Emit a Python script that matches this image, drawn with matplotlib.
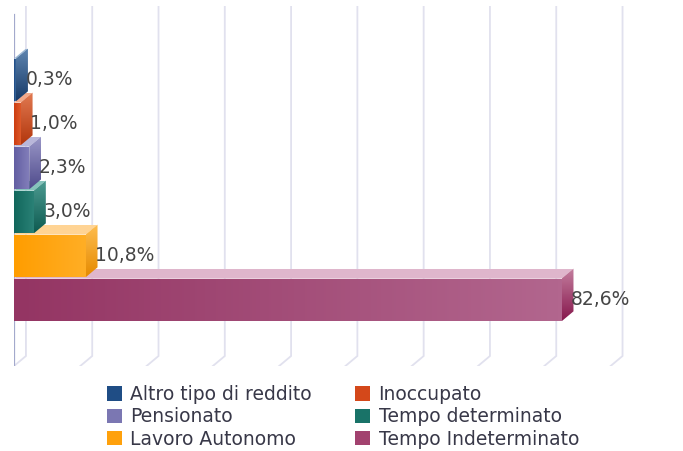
import numpy as np
import matplotlib
matplotlib.use('Agg')
import matplotlib.pyplot as plt
from matplotlib.patches import Polygon, Patch
from matplotlib.colors import LinearSegmentedColormap

categories = ['Altro tipo di reddito', 'Inoccupato', 'Pensionato',
              'Tempo determinato', 'Lavoro Autonomo', 'Tempo Indeterminato']
values = [0.3, 1.0, 2.3, 3.0, 10.8, 82.6]
grid_ticks = [0, 10, 20, 30, 40, 50, 60, 70, 80, 90]

# colours per bar: front (left, right), top, side (top, bottom), legend
front_left = ['#1a4680', '#cc3c10', '#625ea2', '#11675c', '#ff9d00', '#943563']
front_right = ['#3d6a9e', '#de5a2a', '#8480bb', '#2a8176', '#ffae25', '#b2668e']
top_col = ['#9ab7d4', '#f3a98a', '#b9b7da', '#86c4bc', '#ffd494', '#dfb6cc']
side_top = ['#5f86b1', '#e27a52', '#9b98c8', '#4d9c92', '#ffbe50', '#c47f9f']
side_bot = ['#173a68', '#b2360c', '#4f4b8c', '#0d5a50', '#e58a00', '#86174c']
legend_col = ['#1f4d85', '#d4481a', '#7b77b2', '#197368', '#ffa10c', '#a2426f']

DX = 1.8    # depth offset in % units
DY = 0.227  # depth offset in category units
H = 0.97
YTOP, YBOT = -1.68, 6.5
XMAX = 97

fig = plt.figure(figsize=(6.83, 4.51), dpi=100)
ax = fig.add_axes([14 / 683, 1 - 366 / 451, 643 / 683, 360 / 451])
ax.set_axis_off()


def grad_poly(verts, c0, c1, z, horizontal=True):
    poly = Polygon(verts, closed=True, facecolor='none', edgecolor='none', zorder=z)
    ax.add_patch(poly)
    xs = [v[0] for v in verts]
    ys = [v[1] for v in verts]
    cmap = LinearSegmentedColormap.from_list('g', [c0, c1])
    if horizontal:
        grad = np.linspace(0, 1, 128).reshape(1, -1)
    else:
        grad = np.linspace(0, 1, 128).reshape(-1, 1)
    im = ax.imshow(grad, cmap=cmap, aspect='auto', interpolation='bilinear',
                   extent=(min(xs), max(xs), max(ys), min(ys)), zorder=z)
    im.set_clip_path(poly)


# grid: back wall verticals plus floor diagonals
floor_back = YBOT - DY
for t in grid_ticks:
    ax.plot([t + DX, t + DX, t], [YTOP, floor_back, YBOT],
            color='#e1e1ee', lw=1.3, zorder=0, solid_joinstyle='miter')
ax.plot([0, 0], [YTOP + 0.2, YBOT], color='#a3a9cc', lw=1.6, zorder=0.5)

n = len(values)
for i in range(n - 1, -1, -1):
    v = values[i]
    y0, y1 = i - H / 2, i + H / 2
    z = 2 + (n - i) * 3
    # top face
    top = [(0, y0), (v, y0), (v + DX, y0 - DY), (DX, y0 - DY)]
    grad_poly(top, top_col[i], top_col[i], z)
    # side face
    side = [(v, y0), (v + DX, y0 - DY), (v + DX, y1 - DY), (v, y1)]
    grad_poly(side, side_top[i], side_bot[i], z, horizontal=False)
    # front face
    front = [(0, y0), (v, y0), (v, y1), (0, y1)]
    grad_poly(front, front_left[i], front_right[i], z + 1)
    lbl = f"{v:.1f}%".replace('.', ',')
    ax.text(v + DX * 0.8, i, lbl, ha='left', va='center', fontsize=13.5,
            color='#454545', zorder=40)

ax.set_xlim(0, XMAX)
ax.set_ylim(YBOT, YTOP)

order = [0, 2, 4, 1, 3, 5]
handles = [Patch(facecolor=legend_col[k], edgecolor='none') for k in order]
labels = [categories[k] for k in order]
fig.legend(handles, labels, ncol=2, loc='upper left',
           bbox_to_anchor=(107 / 683, 1 - 385 / 451), frameon=False,
           fontsize=13.5, handlelength=0.8, handleheight=0.8,
           handletextpad=0.45, columnspacing=2.3, labelspacing=0.18,
           borderpad=0, borderaxespad=0, labelcolor='#383848')

fig.savefig('out.png', dpi=100)
